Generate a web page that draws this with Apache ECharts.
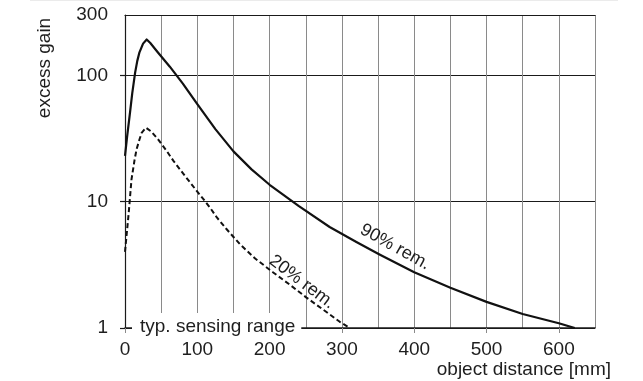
<!DOCTYPE html>
<html>
<head>
<meta charset="utf-8">
<script src="https://cdn.jsdelivr.net/npm/echarts@6/dist/echarts.min.js"></script>
<style>
  html, body { margin: 0; padding: 0; background: #fff; }
  #chart { width: 643px; height: 381px; }
</style>
</head>
<body>
<div id="chart"></div>
<script>
// Excess gain vs. object distance for two remission levels
const distance90 = [0, 3, 7, 10, 14, 17, 20, 25, 30, 35, 45, 62, 80, 100, 125, 150, 175, 200, 240, 283, 320, 352, 400, 450, 500, 550, 600, 622];
const gain90     = [23, 33, 51, 72, 105, 130, 152, 178, 192, 180, 153, 117, 86, 59, 37.5, 25, 18, 13.6, 9.25, 6.3, 4.8, 3.82, 2.76, 2.08, 1.61, 1.29, 1.09, 1.0];

const distance20 = [0, 5, 9, 13, 16, 20, 23, 29, 36, 46, 58, 67, 80, 100, 110, 118, 127, 140, 159, 180, 205, 228, 251, 280, 297, 311];
const gain20     = [4, 8, 15, 21, 26, 31, 35, 38.5, 36, 31, 25, 21, 16.8, 12, 10.2, 8.9, 7.5, 6.1, 4.6, 3.55, 2.75, 2.2, 1.74, 1.32, 1.12, 1.0];

const xTickLabels = [0, 100, 200, 300, 400, 500, 600];
const yTickLabels = [1, 10, 100, 300];
const yTickMarks  = [1, 10, 100];

const curveLabel90 = '90% rem.';
const curveLabel20 = '20% rem.';
const rangeLabel = 'typ. sensing range';
const xTitle = 'object distance [mm]';
const yTitle = 'excess gain';

const FONT = 'Liberation Sans, Arial, Helvetica, sans-serif';
const DARK = '#1a1a1a';
const GRAY = '#8a8a8a';
const TEXT = '#1e1e1e';

const zip = (xs, ys) => xs.map((x, i) => [x, ys[i]]);

const chart = echarts.init(document.getElementById('chart'), null, { renderer: 'canvas' });

chart.setOption({
  animation: false,
  backgroundColor: '#fff',
  grid: { left: 125, right: 48, top: 15, bottom: 53, containLabel: false },
  xAxis: [
    {
      // grid lines every 50 mm, dark baseline at gain = 1
      type: 'value', min: 0, max: 650, interval: 50, position: 'bottom',
      axisLine: { show: true, lineStyle: { color: DARK, width: 1.5 } },
      axisTick: { show: false },
      axisLabel: { show: false },
      splitLine: { show: true, lineStyle: { color: GRAY, width: 1 } }
    },
    {
      // numbered ticks every 100 mm
      type: 'value', min: 0, max: 650, interval: 100, position: 'bottom',
      axisLine: { show: false },
      axisTick: { show: true, length: 5, inside: false, customValues: xTickLabels, lineStyle: { color: GRAY, width: 1 } },
      axisLabel: { show: true, margin: 12, customValues: xTickLabels, color: TEXT, fontSize: 19, fontFamily: FONT },
      splitLine: { show: false }
    },
    {
      // top frame line
      type: 'value', min: 0, max: 650, position: 'top',
      axisLine: { show: true, lineStyle: { color: DARK, width: 1.2 } },
      axisTick: { show: false },
      axisLabel: { show: false },
      splitLine: { show: false }
    }
  ],
  yAxis: [
    {
      type: 'log', logBase: 10, min: 1, max: 300, position: 'left',
      axisLine: { show: false },
      axisTick: { show: true, length: 5, inside: false, customValues: yTickMarks, lineStyle: { color: DARK, width: 1.2 } },
      axisLabel: { show: true, margin: 17, customValues: yTickLabels, color: TEXT, fontSize: 19, fontFamily: FONT },
      splitLine: { show: true, lineStyle: { color: DARK, width: 1.2 } }
    },
    {
      // right frame line
      type: 'log', logBase: 10, min: 1, max: 300, position: 'right',
      axisLine: { show: true, lineStyle: { color: DARK, width: 1.2 } },
      axisTick: { show: false },
      axisLabel: { show: false },
      splitLine: { show: false }
    }
  ],
  series: [
    {
      name: curveLabel90, type: 'line', xAxisIndex: 0, yAxisIndex: 0,
      data: zip(distance90, gain90),
      smooth: false, showSymbol: false, symbol: 'none',
      lineStyle: { color: '#111', width: 2.2, type: 'solid', join: 'round' },
      z: 5
    },
    {
      name: curveLabel20, type: 'line', xAxisIndex: 0, yAxisIndex: 0,
      data: zip(distance20, gain20),
      smooth: false, showSymbol: false, symbol: 'none',
      lineStyle: { color: '#111', width: 2, type: [5, 3], join: 'round' },
      z: 5
    }
  ],
  graphic: [
    { type: 'line', z: 1, shape: { x1: 30, y1: 0.5, x2: 618, y2: 0.5 }, style: { stroke: '#ebebeb', lineWidth: 1 } },
    {
      type: 'text', z: 100, left: 132, top: 313,
      style: { text: rangeLabel, font: '19px ' + FONT, fill: TEXT, backgroundColor: '#fff', padding: [4, 6, 4, 8] }
    },
    {
      type: 'text', z: 100, x: 611, y: 360,
      style: { text: xTitle, font: '19px ' + FONT, fill: TEXT, align: 'right', verticalAlign: 'top' }
    },
    {
      type: 'text', z: 100, x: 45, y: 68, rotation: Math.PI / 2,
      style: { text: yTitle, font: '19px ' + FONT, fill: TEXT, align: 'center', verticalAlign: 'middle' }
    },
    {
      type: 'text', z: 100, x: 395, y: 247, rotation: -29 * Math.PI / 180,
      style: { text: curveLabel90, font: '18px ' + FONT, fill: TEXT, align: 'center', verticalAlign: 'middle' }
    },
    {
      type: 'text', z: 100, x: 302, y: 282, rotation: -37 * Math.PI / 180,
      style: { text: curveLabel20, font: '18px ' + FONT, fill: TEXT, align: 'center', verticalAlign: 'middle' }
    }
  ]
});
</script>
</body>
</html>
